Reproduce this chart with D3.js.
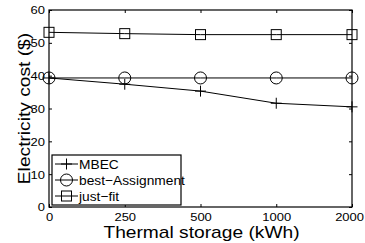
<!DOCTYPE html>
<html>
<head>
<meta charset="utf-8">
<script src="https://cdn.jsdelivr.net/npm/d3@7"></script>
<style>
  body { margin: 0; background: #fff; }
  text { font-family: "Liberation Sans", Arial, sans-serif; fill: #000; }
</style>
</head>
<body>
<div id="chart"></div>
<script>
// data
const categories = ['0', '250', '500', '1000', '2000'];
const mbec = [39.3, 37.4, 35.3, 31.6, 30.5];
const bestAssignment = [39.3, 39.3, 39.3, 39.3, 39.3];
const justFit = [53.2, 52.8, 52.5, 52.5, 52.5];
const yTicks = [0, 10, 20, 30, 40, 50, 60];

const width = 365, height = 243;
const margin = { top: 10, right: 13, bottom: 36, left: 49 };
const w = width - margin.left - margin.right;
const h = height - margin.top - margin.bottom;

const svg = d3.select('#chart')
  .append('svg')
  .attr('width', width)
  .attr('height', height);

const g = svg.append('g')
  .attr('transform', `translate(${margin.left}, ${margin.top})`);

const x = d3.scalePoint().domain(categories).range([0, w]);
const y = d3.scaleLinear().domain([0, 60]).range([h, 0]);

// frame
g.append('rect')
  .attr('width', w).attr('height', h)
  .attr('fill', 'none').attr('stroke', '#000').attr('stroke-width', 1.2);

// axes with inward ticks (MATLAB style)
const xAxis = g.append('g')
  .attr('transform', `translate(0, ${h})`)
  .call(d3.axisBottom(x).tickSizeInner(-3).tickSizeOuter(0).tickPadding(6));
const xTop = g.append('g')
  .call(d3.axisTop(x).tickSizeInner(-3).tickSizeOuter(0).tickFormat(''));
const yAxis = g.append('g')
  .call(d3.axisLeft(y).tickValues(yTicks).tickSizeInner(-3).tickSizeOuter(0).tickPadding(4));
const yRight = g.append('g')
  .attr('transform', `translate(${w}, 0)`)
  .call(d3.axisRight(y).tickValues(yTicks).tickSizeInner(-3).tickSizeOuter(0).tickFormat(''));

[xAxis, xTop, yAxis, yRight].forEach(a => {
  a.select('.domain').remove();
  a.selectAll('line').attr('stroke', '#000');
  a.selectAll('text').style('font-size', '11px').style('font-family', '"Liberation Sans", Arial, sans-serif');
});
// the reference font is wider than Liberation Sans: stretch the labels a little
xAxis.selectAll('text').attr('transform', 'scale(1.18,1)');
// keep the last label inside the window
xAxis.selectAll('text').filter(d => d === '2000').attr('x', -2.5);
yAxis.selectAll('text').attr('dy', '0.35em').attr('x', -4 / 1.18).attr('transform', 'scale(1.18,1)');

// axis titles
svg.append('text')
  .attr('transform', `translate(${margin.left + w / 2 + 1}, 238) scale(1.2,1)`)
  .attr('text-anchor', 'middle')
  .style('font-size', '16px')
  .text('Thermal storage (kWh)');
svg.append('text')
  .attr('transform', `translate(30, ${margin.top + h / 2}) rotate(-90) scale(1.2,1)`)
  .attr('text-anchor', 'middle')
  .style('font-size', '16px')
  .text('Electricity cost ($)');

const line = d3.line().x((d, i) => x(categories[i])).y(d => y(d));

const series = [
  { name: 'MBEC', values: mbec, marker: 'plus' },
  { name: 'best\u2212Assignment', values: bestAssignment, marker: 'circle' },
  { name: 'just\u2212fit', values: justFit, marker: 'square' }
];

function drawMarker(sel, type) {
  if (type === 'plus') {
    sel.append('path').attr('d', 'M-5.5,0H5.5M0,-5.5V5.5');
  } else if (type === 'circle') {
    sel.append('circle').attr('r', 6);
  } else {
    sel.append('rect').attr('x', -5).attr('y', -5).attr('width', 10).attr('height', 10);
  }
  sel.selectAll('path, circle, rect')
    .attr('fill', 'none').attr('stroke', '#000').attr('stroke-width', 1);
}

series.forEach(s => {
  g.append('path')
    .datum(s.values)
    .attr('d', line)
    .attr('fill', 'none').attr('stroke', '#000').attr('stroke-width', 1);
  s.values.forEach((v, i) => {
    const m = g.append('g').attr('transform', `translate(${x(categories[i])}, ${y(v)})`);
    drawMarker(m, s.marker);
  });
});

// legend
const legend = svg.append('g').attr('transform', 'translate(52, 155)');
legend.append('rect')
  .attr('width', 129).attr('height', 50)
  .attr('fill', '#fff').attr('stroke', '#000').attr('stroke-width', 1.2);
series.forEach((s, i) => {
  const row = legend.append('g').attr('transform', `translate(0, ${9 + i * 16})`);
  row.append('line').attr('x1', 3).attr('x2', 26).attr('stroke', '#000');
  drawMarker(row.append('g').attr('transform', 'translate(14.5, 0)'), s.marker);
  row.append('text')
    .attr('transform', 'translate(27,0) scale(1.06,1)')
    .attr('dy', '0.35em')
    .style('font-size', '13px')
    .text(s.name);
});
</script>
</body>
</html>
